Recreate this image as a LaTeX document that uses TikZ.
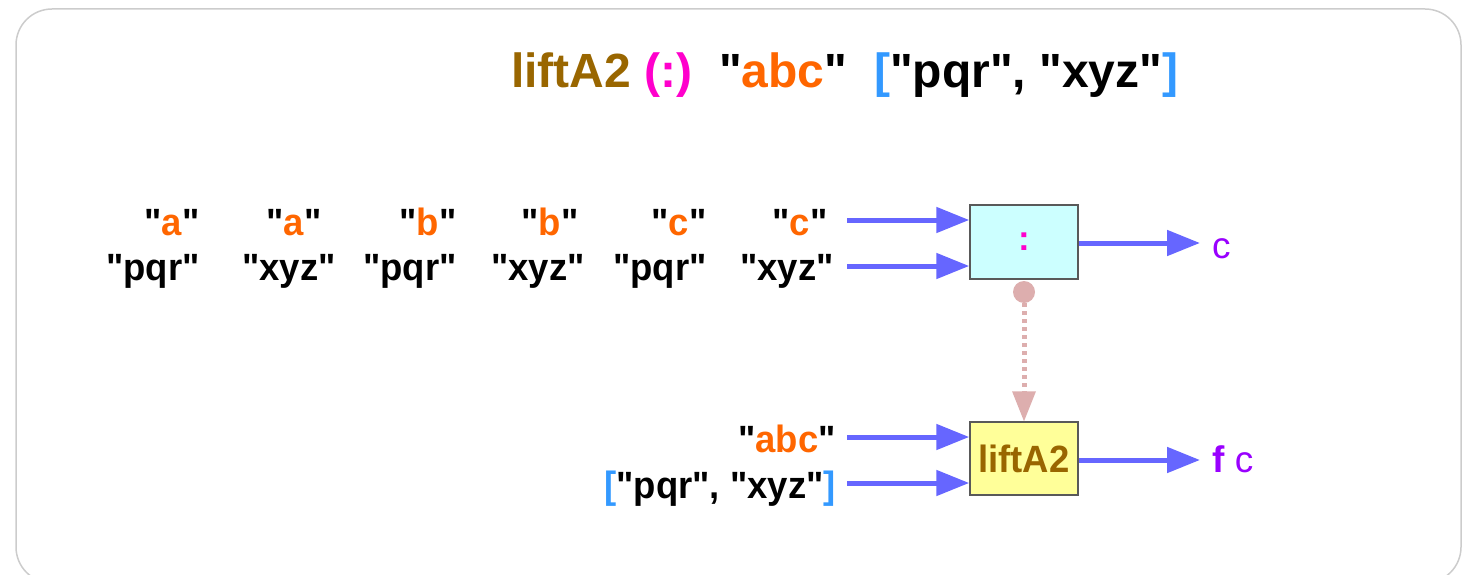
\documentclass[tikz,border=0pt]{standalone}
\usepackage{fontspec}
\setmainfont{Liberation Sans}[Ligatures=TeXOff]
\newfontfamily\narrow{Liberation Sans}[Ligatures=TeXOff, FakeStretch=0.96]
\usetikzlibrary{arrows.meta}
\definecolor{brn}{HTML}{996600}
\definecolor{mag}{HTML}{FF00CC}
\definecolor{org}{HTML}{FF6600}
\definecolor{blu}{HTML}{3399FF}
\definecolor{arr}{HTML}{6666FF}
\definecolor{pur}{HTML}{9900FF}
\definecolor{pink}{HTML}{DDAEAE}
\definecolor{cyanbox}{HTML}{CCFFFF}
\definecolor{yelbox}{HTML}{FFFF99}
\begin{document}
\begin{tikzpicture}[x=1pt,y=-1pt,
  lbl/.style={font=\narrow\fontsize{38}{44}\selectfont\bfseries, inner sep=0pt, anchor=base},
  flow/.style={draw=arr, line width=5pt, -{Triangle[length=33pt,width=25pt]}},
  fbox/.style={draw=black!65, line width=1.5pt, minimum width=108pt, inner sep=0pt},
  outlbl/.style={font=\fontsize{37}{44}\selectfont, text=pur, inner sep=0pt, anchor=base west}]
\useasboundingbox (0,0) rectangle (1469,575);
\draw[black!20, line width=1.5pt, rounded corners=36pt] (16,9) rectangle (1461,583);

% title
\node[font=\fontsize{48}{54}\selectfont\bfseries, inner sep=0pt, anchor=base west] (title) at (511,88)
  {\textcolor{brn}{liftA2} \textcolor{mag}{(:)}\ \ "\textcolor{org}{abc}"\ \ \textcolor{blu}{[}"pqr", "xyz"\textcolor{blu}{]}};

% top row labels
\node[lbl] (a1) at (172,235) {"\textcolor{org}{a}"};
\node[lbl] (a2) at (294,235) {"\textcolor{org}{a}"};
\node[lbl] (a3) at (428,235) {"\textcolor{org}{b}"};
\node[lbl] (a4) at (550,235) {"\textcolor{org}{b}"};
\node[lbl] (a5) at (679,235) {"\textcolor{org}{c}"};
\node[lbl] (a6) at (800,235) {"\textcolor{org}{c}"};
\node[lbl] (b1) at (153,280) {"pqr"};
\node[lbl] (b2) at (289,280) {"xyz"};
\node[lbl] (b3) at (410,280) {"pqr"};
\node[lbl] (b4) at (538,280) {"xyz"};
\node[lbl] (b5) at (660,280) {"pqr"};
\node[lbl] (b6) at (787,280) {"xyz"};

% boxes
\node[fbox, fill=cyanbox, minimum height=74pt] (cons) at (1024,242) {};
\node[font=\fontsize{35}{40}\selectfont\bfseries, text=mag] (colon) at (1024,242) {:};
\node[fbox, fill=yelbox, minimum height=73pt, font=\narrow\fontsize{38}{44}\selectfont\bfseries, text=brn] (lift) at (1024,458.5) {liftA2};

% input coordinates
\coordinate (i1) at (847,220);
\coordinate (i2) at (847,266);
\coordinate (i3) at (847,437);
\coordinate (i4) at (847,483);
\draw[flow] (i1) -- (cons.west |- i1);
\draw[flow] (i2) -- (cons.west |- i2);
\draw[flow] (i3) -- (lift.west |- i3);
\draw[flow] (i4) -- (lift.west |- i4);

% outputs
\coordinate (o1) at (1200,243);
\coordinate (o2) at (1200,460);
\draw[flow] (cons.east |- o1) -- (o1);
\draw[flow] (lift.east |- o2) -- (o2);
\node[outlbl] (c1) at (1212,258) {c};
\node[outlbl] (c2) at (1212,472) {\textbf{f} c};

% lower labels
\node[lbl, anchor=base east] (abc) at (836,452) {"\textcolor{org}{abc}"};
\node[lbl, anchor=base east] (lst) at (836,498) {\textcolor{blu}{[}"pqr", "xyz"\textcolor{blu}{]}};

% dependency
\node[circle, fill=pink, inner sep=0pt, minimum size=22pt] (dot) at (1024,292) {};
\draw[pink, line width=5pt, dash pattern=on 4pt off 4pt] (dot.south) -- (1024,396);
\draw[pink, line width=0pt, -{Triangle[length=30pt,width=24pt]}] (1024,394) -- (lift.north);
\end{tikzpicture}
\end{document}
